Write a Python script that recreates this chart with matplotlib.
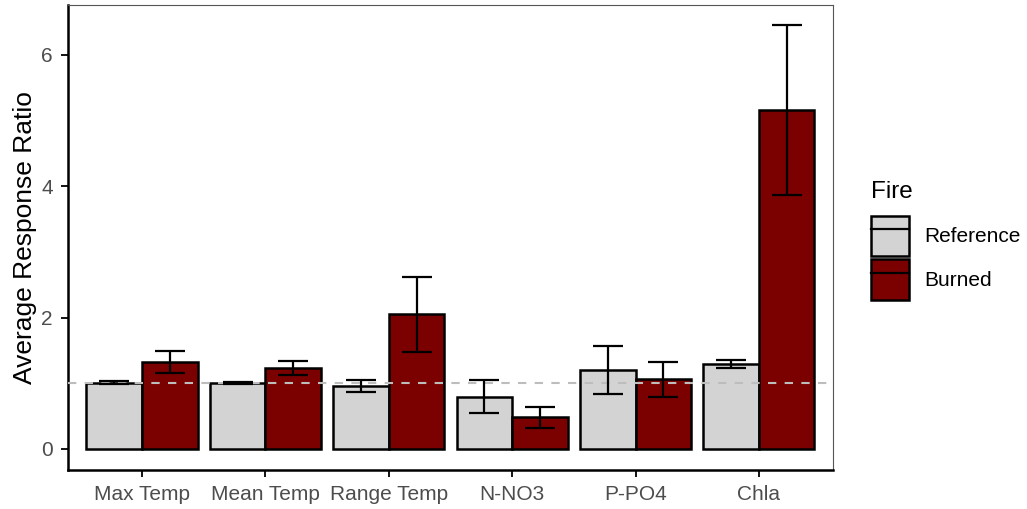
import numpy as np
import matplotlib.pyplot as plt
from matplotlib.patches import Patch
from matplotlib.lines import Line2D

# data
variables = ["Max Temp", "Mean Temp", "Range Temp", "N-NO3", "P-PO4", "Chla"]
ref_mean = [1.01, 1.01, 0.96, 0.795, 1.20, 1.29]
ref_se = [0.02, 0.015, 0.09, 0.25, 0.365, 0.06]
burn_mean = [1.32, 1.23, 2.05, 0.48, 1.06, 5.16]
burn_se = [0.17, 0.105, 0.575, 0.155, 0.265, 1.29]
fire_levels = ["Reference", "Burned"]

ref_col = "#d3d3d3"
burn_col = "#7b0000"

plt.rcParams["font.family"] = ["Liberation Sans", "DejaVu Sans"]

fig = plt.figure(figsize=(10.27, 5.09), dpi=100)
ax = fig.add_axes([0.0662, 0.0766, 0.7449, 0.9136])

x = np.arange(1, len(variables) + 1)
w = 0.45

ax.bar(x - w / 2, ref_mean, width=w, color=ref_col, edgecolor="black", linewidth=1.8, zorder=2)
ax.bar(x + w / 2, burn_mean, width=w, color=burn_col, edgecolor="black", linewidth=1.8, zorder=2)

ax.axhline(1, color="#bdbdbd", linestyle=(0, (4, 4)), linewidth=1.5, zorder=3)

ax.errorbar(x - w / 2, ref_mean, yerr=ref_se, fmt="none", ecolor="black",
            elinewidth=1.6, capsize=11, capthick=1.6, zorder=4)
ax.errorbar(x + w / 2, burn_mean, yerr=burn_se, fmt="none", ecolor="black",
            elinewidth=1.6, capsize=11, capthick=1.6, zorder=4)

ax.set_xlim(0.4, 6.6)
ax.set_ylim(-0.322, 6.76)
ax.set_xticks(x)
ax.set_xticklabels(variables)
ax.set_yticks([0, 2, 4, 6])
ax.tick_params(axis="both", colors="black", labelcolor="#4d4d4d", labelsize=15,
               length=5, width=1.3, direction="out", pad=6)
ax.set_ylabel("Average Response Ratio", fontsize=19, color="black", labelpad=3)

for side in ["left", "bottom"]:
    ax.spines[side].set_color("black")
    ax.spines[side].set_linewidth(1.8)
for side in ["top", "right"]:
    ax.spines[side].set_color("#555555")
    ax.spines[side].set_linewidth(0.8)

handles = []
for col in [ref_col, burn_col]:
    handles.append((Patch(facecolor=col, edgecolor="black", linewidth=1.8),
                    Line2D([], [], color="black", linewidth=1.6)))
leg = fig.legend(handles, fire_levels, title="Fire", loc="upper left",
                 bbox_to_anchor=(0.840, 0.66), frameon=False, fontsize=15,
                 title_fontsize=17.5, handlelength=1.83, handleheight=2.6,
                 labelspacing=0.15, handletextpad=0.72, borderaxespad=0)
leg._legend_box.align = "left"
leg._legend_box.sep = 9

fig.savefig("out.png", dpi=100)
